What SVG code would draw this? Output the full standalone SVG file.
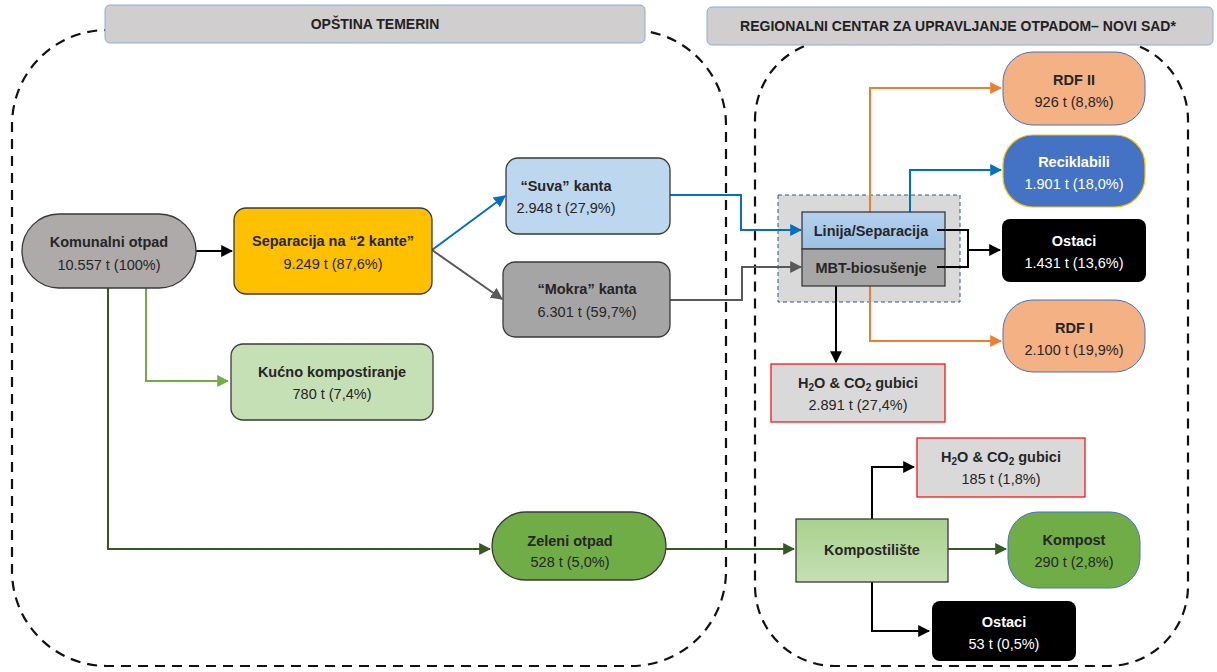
<svg xmlns="http://www.w3.org/2000/svg" width="1217" height="672" viewBox="0 0 1217 672">
<defs>
<style>
text{font-family:"Liberation Sans",Arial,sans-serif;font-size:14.5px;fill:#262626;text-anchor:middle}
.b{font-weight:bold}
.w{fill:#fff}
.hdr{font-size:14px;font-weight:bold;fill:#222}
.node{stroke:#3a3a3a;stroke-width:1.3}
.region{fill:none;stroke:#111;stroke-width:2.2;stroke-dasharray:10 7}
.c{fill:none;stroke-width:2}
</style>
<marker id="aK" viewBox="0 0 10 10" refX="9" refY="5" markerWidth="6" markerHeight="6" orient="auto"><path d="M0,0L10,5L0,10z" fill="#000"/></marker>
<marker id="aB" viewBox="0 0 10 10" refX="9" refY="5" markerWidth="6" markerHeight="6" orient="auto"><path d="M0,0L10,5L0,10z" fill="#0070c0"/></marker>
<marker id="aG" viewBox="0 0 10 10" refX="9" refY="5" markerWidth="6" markerHeight="6" orient="auto"><path d="M0,0L10,5L0,10z" fill="#595959"/></marker>
<marker id="aO" viewBox="0 0 10 10" refX="9" refY="5" markerWidth="6" markerHeight="6" orient="auto"><path d="M0,0L10,5L0,10z" fill="#ed7d31"/></marker>
<marker id="aL" viewBox="0 0 10 10" refX="9" refY="5" markerWidth="6" markerHeight="6" orient="auto"><path d="M0,0L10,5L0,10z" fill="#70ad47"/></marker>
<marker id="aD" viewBox="0 0 10 10" refX="9" refY="5" markerWidth="6" markerHeight="6" orient="auto"><path d="M0,0L10,5L0,10z" fill="#385723"/></marker>
<linearGradient id="gBlue" x1="0" y1="0" x2="0" y2="1"><stop offset="0" stop-color="#b4d0ee"/><stop offset="1" stop-color="#9cc2e5"/></linearGradient>
<linearGradient id="gGreen" x1="0" y1="0" x2="0" y2="1"><stop offset="0" stop-color="#a9d18e"/><stop offset="1" stop-color="#c5e0b4"/></linearGradient>
</defs>
<rect width="1217" height="672" fill="#fff"/>

<g id="regions">
<rect class="region" x="12" y="30" width="714" height="636" rx="95" ry="95"/>
<rect class="region" x="755" y="40" width="433" height="626" rx="80" ry="80"/>
</g>

<g id="header-left">
<rect x="105" y="5" width="540" height="38" rx="5" fill="#d0cece" stroke="#8faadc" stroke-width="1"/>
<text class="hdr" x="375" y="29">OPŠTINA TEMERIN</text>
</g>
<g id="header-right">
<rect x="707" y="7" width="506" height="38" rx="5" fill="#d0cece" stroke="#8faadc" stroke-width="1"/>
<text class="hdr" x="958" y="31">REGIONALNI CENTAR ZA UPRAVLJANJE OTPADOM– NOVI SAD*</text>
</g>

<g id="mbt-group">
<rect x="778" y="195" width="182" height="107" fill="#d9d9d9" stroke="#2f5597" stroke-width="1" stroke-dasharray="4 3"/>
</g>

<g id="connectors">
<path class="c" stroke="#000" d="M196,251H232" marker-end="url(#aK)"/>
<path class="c" stroke="#0070c0" d="M432,250L505,196" marker-end="url(#aB)"/>
<path class="c" stroke="#595959" d="M432,250L502,299" marker-end="url(#aG)"/>
<path class="c" stroke="#70ad47" d="M146,288V381H228" marker-end="url(#aL)"/>
<path class="c" stroke="#385723" d="M108,288V549H490" marker-end="url(#aD)"/>
<path class="c" stroke="#0070c0" d="M670,195H741V230H801" marker-end="url(#aB)"/>
<path class="c" stroke="#595959" d="M670,300H742V267H801" marker-end="url(#aG)"/>
<path class="c" stroke="#ed7d31" d="M870,212V88H1001" marker-end="url(#aO)"/>
<path class="c" stroke="#0070c0" d="M910,212V170H1001" marker-end="url(#aB)"/>
<path class="c" stroke="#ed7d31" d="M870,286V341H1001" marker-end="url(#aO)"/>
<path class="c" stroke="#000" d="M937,230H968V267H937"/>
<path class="c" stroke="#000" d="M968,250H1000" marker-end="url(#aK)"/>
<path class="c" stroke="#000" d="M836,286V362" marker-end="url(#aK)"/>
<path class="c" stroke="#385723" d="M666,549H794" marker-end="url(#aD)"/>
<path class="c" stroke="#000" d="M872,519V467H914" marker-end="url(#aK)"/>
<path class="c" stroke="#000" d="M872,582V631H929" marker-end="url(#aK)"/>
<path class="c" stroke="#385723" d="M948,549H1006" marker-end="url(#aD)"/>
</g>

<g id="komunalni">
<rect class="node" x="22" y="214" width="174" height="74" rx="37" fill="#aeaaaa"/>
<text class="b" x="109" y="247">Komunalni otpad</text>
<text x="109" y="270">10.557 t (100%)</text>
</g>
<g id="separacija">
<rect class="node" x="234" y="208" width="198" height="86" rx="12" fill="#ffc000"/>
<text class="b" x="333" y="246">Separacija na “2 kante”</text>
<text x="333" y="269">9.249 t (87,6%)</text>
</g>
<g id="suva">
<rect class="node" x="506" y="158" width="164" height="76" rx="12" fill="#bdd7ee"/>
<text class="b" x="566" y="191">“Suva” kanta</text>
<text x="566" y="213">2.948 t (27,9%)</text>
</g>
<g id="mokra">
<rect class="node" x="503" y="262" width="167" height="75" rx="12" fill="#a5a5a5"/>
<text class="b" x="587" y="294">“Mokra” kanta</text>
<text x="587" y="317">6.301 t (59,7%)</text>
</g>
<g id="kucno">
<rect class="node" x="231" y="344" width="202" height="76" rx="12" fill="#c5e0b4"/>
<text class="b" x="332" y="377">Kućno kompostiranje</text>
<text x="332" y="399">780 t (7,4%)</text>
</g>
<g id="zeleni">
<rect class="node" x="492" y="512" width="174" height="68" rx="34" fill="#70ad47"/>
<text class="b" x="570" y="546">Zeleni otpad</text>
<text x="570" y="567">528 t (5,0%)</text>
</g>

<g id="linija">
<rect class="node" x="802" y="212" width="143" height="37" fill="url(#gBlue)"/>
<text class="b" x="871" y="236">Linija/Separacija</text>
</g>
<g id="mbt">
<rect class="node" x="802" y="249" width="143" height="37" fill="#a6a6a6"/>
<text class="b" x="871" y="273">MBT-biosušenje</text>
</g>
<path class="c" stroke="#000" d="M937,230H945M937,267H945"/>

<g id="rdf2">
<rect x="1003" y="52" width="142" height="73" rx="30" fill="#f4b183" stroke="#4472c4" stroke-width="1"/>
<text class="b" x="1074" y="85">RDF II</text>
<text x="1074" y="107">926 t (8,8%)</text>
</g>
<g id="reciklabili">
<rect x="1003" y="135" width="142" height="72" rx="30" fill="#4472c4" stroke="#ffc000" stroke-width="1.2"/>
<text class="b w" x="1074" y="167">Reciklabili</text>
<text class="w" x="1074" y="189">1.901 t (18,0%)</text>
</g>
<g id="ostaci1">
<rect x="1002" y="219" width="144" height="63" rx="8" fill="#000"/>
<text class="b w" x="1074" y="246">Ostaci</text>
<text class="w" x="1074" y="268">1.431 t (13,6%)</text>
</g>
<g id="rdf1">
<rect x="1003" y="300" width="142" height="72" rx="30" fill="#f4b183" stroke="#4472c4" stroke-width="1"/>
<text class="b" x="1074" y="333">RDF I</text>
<text x="1074" y="355">2.100 t (19,9%)</text>
</g>
<g id="gubici1">
<rect x="771" y="364" width="174" height="58" fill="#d9d9d9" stroke="#ff0000" stroke-width="1.2"/>
<text class="b" x="858" y="388">H<tspan font-size="10" dy="3">2</tspan><tspan dy="-3">O &amp; CO</tspan><tspan font-size="10" dy="3">2</tspan><tspan dy="-3"> gubici</tspan></text>
<text x="858" y="410">2.891 t (27,4%)</text>
</g>
<g id="gubici2">
<rect x="917" y="438" width="168" height="59" fill="#d9d9d9" stroke="#ff0000" stroke-width="1.2"/>
<text class="b" x="1001" y="462">H<tspan font-size="10" dy="3">2</tspan><tspan dy="-3">O &amp; CO</tspan><tspan font-size="10" dy="3">2</tspan><tspan dy="-3"> gubici</tspan></text>
<text x="1001" y="484">185 t (1,8%)</text>
</g>
<g id="kompostiliste">
<rect class="node" x="796" y="519" width="152" height="63" fill="url(#gGreen)"/>
<text class="b" x="872" y="555">Kompostilište</text>
</g>
<g id="kompost">
<rect x="1008" y="512" width="132" height="76" rx="30" fill="#70ad47" stroke="#4472c4" stroke-width="1"/>
<text class="b" x="1074" y="545">Kompost</text>
<text x="1074" y="567">290 t (2,8%)</text>
</g>
<g id="ostaci2">
<rect x="932" y="601" width="144" height="60" rx="8" fill="#000"/>
<text class="b w" x="1004" y="627">Ostaci</text>
<text class="w" x="1004" y="649">53 t (0,5%)</text>
</g>
</svg>
